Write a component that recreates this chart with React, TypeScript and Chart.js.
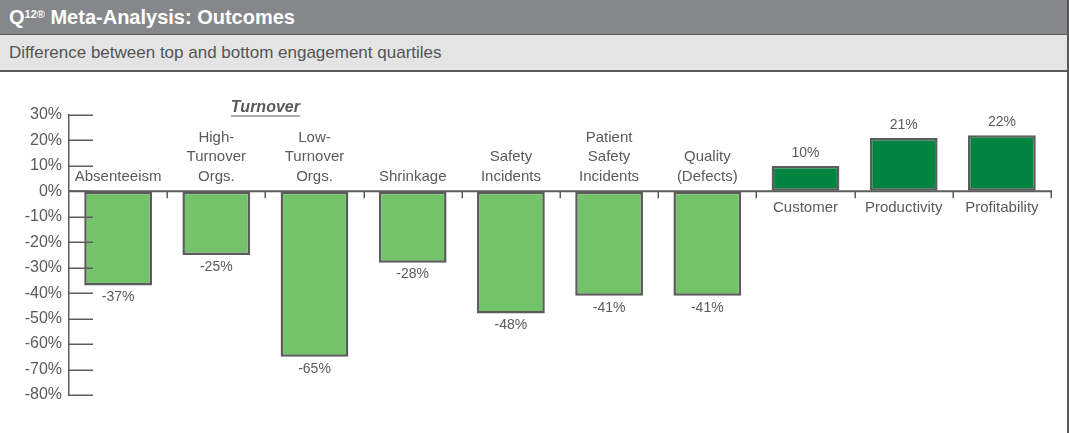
import React, { useEffect, useRef } from "react";
import { Chart, registerables } from "chart.js";

Chart.register(...registerables);

const categories: string[][] = [
  ["Absenteeism"],
  ["High-", "Turnover", "Orgs."],
  ["Low-", "Turnover", "Orgs."],
  ["Shrinkage"],
  ["Safety", "Incidents"],
  ["Patient", "Safety", "Incidents"],
  ["Quality", "(Defects)"],
  ["Customer"],
  ["Productivity"],
  ["Profitability"],
];
const values = [-37, -25, -65, -28, -48, -41, -41, 10, 21, 22];
const yMin = -80;
const yMax = 30;
const yStep = 10;
const groupLabel = "Turnover";
const groupIndices = [1, 2];

const FONT = '"Liberation Sans", Arial, Helvetica, sans-serif';
const TEXT = "#5a5a5a";
const LINE = "#5c5c5c";
const NEG_FILL = "#72c36a";
const POS_FILL = "#00843f";

const labelsPlugin = {
  id: "customLabels",
  afterDatasetsDraw(chart: any) {
    const { ctx, chartArea, scales } = chart;
    const x = scales.x;
    const y = scales.y;
    const zero = y.getPixelForValue(0);
    const n = categories.length;
    const catW = (chartArea.right - chartArea.left) / n;
    ctx.save();
    // y tick marks
    ctx.strokeStyle = LINE;
    ctx.lineWidth = 1.5;
    for (let v = yMin; v <= yMax; v += yStep) {
      const py = Math.round(y.getPixelForValue(v)) + 0.25;
      ctx.beginPath();
      ctx.moveTo(chartArea.left, py);
      ctx.lineTo(chartArea.left + 24, py);
      ctx.stroke();
    }
    // zero line
    ctx.lineWidth = 2;
    ctx.beginPath();
    ctx.moveTo(chartArea.left, zero);
    ctx.lineTo(chartArea.right + 1, zero);
    ctx.stroke();
    // category ticks
    ctx.lineWidth = 1.5;
    for (let i = 1; i <= n; i++) {
      const px = Math.round(chartArea.left + i * catW) + 0.25;
      ctx.beginPath();
      ctx.moveTo(px, zero);
      ctx.lineTo(px, zero + 7);
      ctx.stroke();
    }
    // labels
    const meta = chart.getDatasetMeta(0);
    ctx.fillStyle = TEXT;
    ctx.textAlign = "center";
    ctx.textBaseline = "middle";
    categories.forEach((lines, i) => {
      const cx = x.getPixelForValue(i);
      const v = values[i];
      const bar = meta.data[i];
      ctx.font = "15px " + FONT;
      if (v < 0) {
        lines.forEach((ln, k) => {
          const py = zero - 15 - (lines.length - 1 - k) * 19.5;
          ctx.fillText(ln, cx, py);
        });
        ctx.font = "14px " + FONT;
        ctx.fillText(v + "%", cx, bar.y + 12);
      } else {
        lines.forEach((ln, k) => {
          ctx.fillText(ln, cx, zero + 16 + k * 19.5);
        });
        ctx.font = "14px " + FONT;
        ctx.fillText(v + "%", cx, bar.y - 13);
      }
    });
    // group label
    const gx =
      (x.getPixelForValue(groupIndices[0]) +
        x.getPixelForValue(groupIndices[groupIndices.length - 1])) /
      2;
    ctx.font = "italic bold 16px " + FONT;
    const gy = chartArea.top - 7;
    ctx.fillText(groupLabel, gx, gy);
    const w = ctx.measureText(groupLabel).width;
    ctx.strokeStyle = TEXT;
    ctx.lineWidth = 1.2;
    ctx.beginPath();
    ctx.moveTo(gx - w / 2, gy + 8);
    ctx.lineTo(gx + w / 2, gy + 8);
    ctx.stroke();
    ctx.restore();
  },
};

export default function App() {
  const ref = useRef<HTMLCanvasElement>(null);
  useEffect(() => {
    document.body.style.margin = "0";
    const chart = new Chart(ref.current as HTMLCanvasElement, {
      type: "bar",
      data: {
        labels: categories.map((c) => c.join(" ")),
        datasets: [
          {
            data: values,
            backgroundColor: values.map((v) => (v < 0 ? NEG_FILL : POS_FILL)),
            borderColor: LINE,
            borderWidth: 2.5,
            borderSkipped: false,
            barPercentage: 0.69,
            categoryPercentage: 1,
          },
        ],
      },
      options: {
        animation: false,
        responsive: false,
        maintainAspectRatio: false,
        layout: { padding: { top: 43, bottom: 38, left: 0, right: 16 } },
        plugins: {
          legend: { display: false },
          tooltip: { enabled: false },
          title: { display: false },
        },
        scales: {
          x: { display: false, offset: true },
          y: {
            min: yMin,
            max: yMax,
            ticks: {
              stepSize: yStep,
              color: TEXT,
              font: { family: FONT, size: 16 },
              padding: 7,
              callback: (v: any) => v + "%",
            },
            grid: { display: true, drawOnChartArea: false, drawTicks: false, tickLength: 0 },
            border: { display: true, color: LINE, width: 1.5 },
            afterFit: (s: any) => {
              s.width = 69;
            },
          },
        },
      },
      plugins: [labelsPlugin],
    });
    return () => chart.destroy();
  }, []);

  return (
    <div
      style={{
        position: "fixed",
        left: 0,
        top: 0,
        width: 1069,
        height: 433,
        boxSizing: "border-box",
        borderRight: "2px solid #58585a",
        background: "#fff",
        fontFamily: FONT,
      }}
    >
      <div
        style={{
          height: 34,
          background: "#86878b",
          borderBottom: "1px solid #5a5a5c",
          color: "#fff",
          fontWeight: "bold",
          fontSize: 20,
          lineHeight: "34px",
          paddingLeft: 9,
          whiteSpace: "nowrap",
        }}
      >
        Q<sup style={{ fontSize: 11, verticalAlign: "top", lineHeight: "28px" }}>12®</sup> Meta-Analysis: Outcomes
      </div>
      <div
        style={{
          height: 35,
          background: "#e4e4e4",
          borderBottom: "2px solid #5a5a5c",
          color: "#555",
          fontSize: 17,
          lineHeight: "35px",
          paddingLeft: 9,
          whiteSpace: "nowrap",
        }}
      >
        Difference between top and bottom engagement quartiles
      </div>
      <canvas ref={ref} width={1067} height={361} style={{ display: "block" }} />
    </div>
  );
}
